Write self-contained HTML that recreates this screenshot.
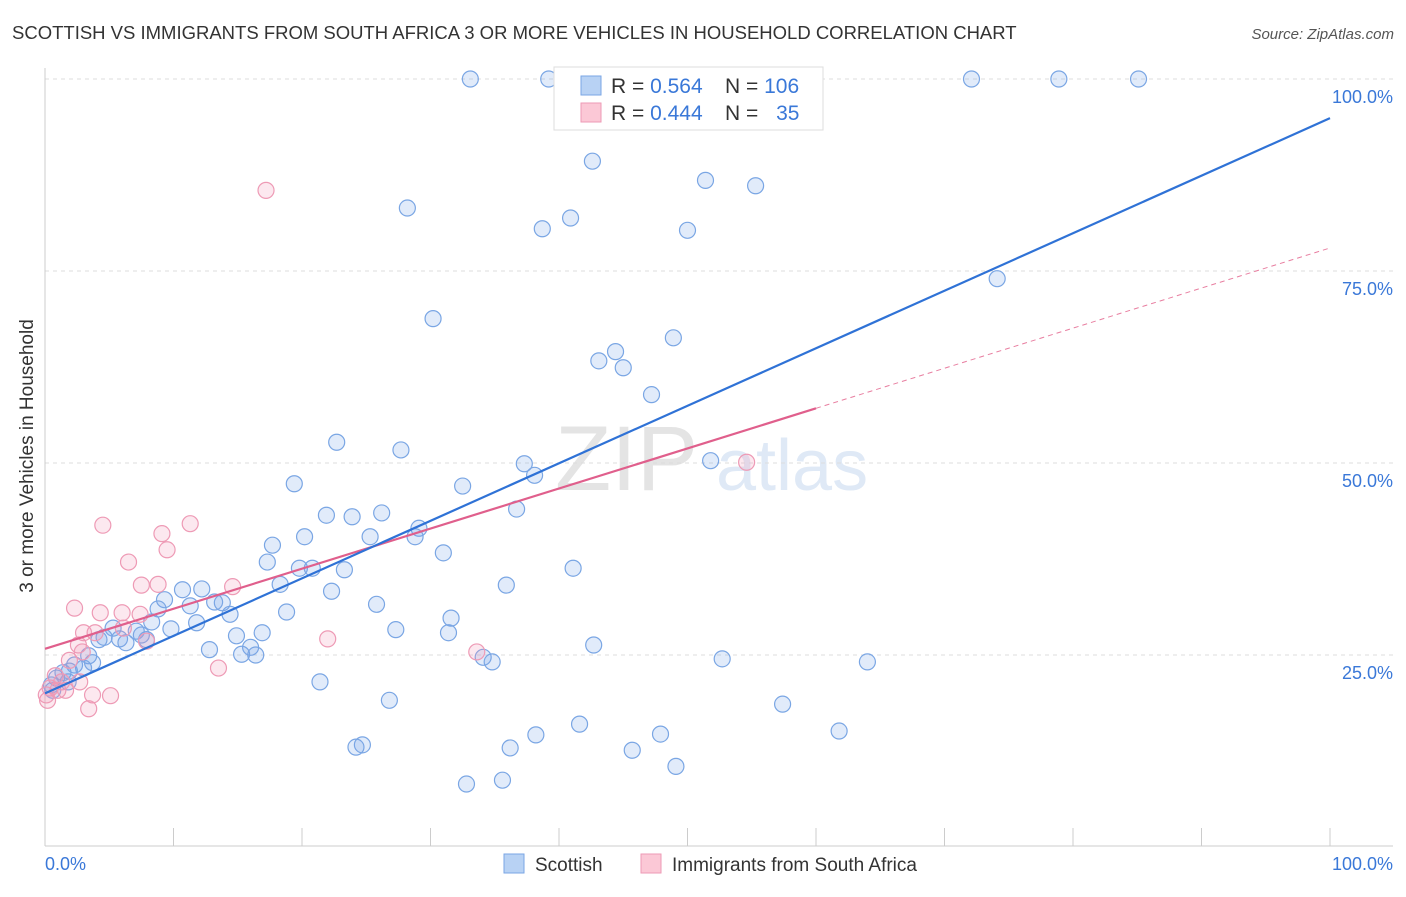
<!DOCTYPE html>
<html><head><meta charset="utf-8"><style>
body{margin:0;background:#fff;font-family:"Liberation Sans",sans-serif;}
svg text{font-family:"Liberation Sans",sans-serif;}
</style></head><body>
<svg id="chart" width="1406" height="892" viewBox="0 0 1406 892" xmlns="http://www.w3.org/2000/svg">
<text x="12" y="39" font-size="18.5" fill="#333">SCOTTISH VS IMMIGRANTS FROM SOUTH AFRICA 3 OR MORE VEHICLES IN HOUSEHOLD CORRELATION CHART</text>
<text x="1394" y="39" font-size="15" fill="#555" text-anchor="end" font-style="italic">Source: ZipAtlas.com</text>
<text x="555" y="490" font-size="92" fill="#e4e4e4" font-family="Liberation Serif">ZIP</text>
<text x="716" y="490" font-size="72" fill="#dfe9f6">atlas</text>
<g id="grid"></g>
<g id="axes"></g>
<g id="marks"></g>
<text transform="translate(33,456) rotate(-90)" font-size="19" fill="#333" text-anchor="middle">3 or more Vehicles in Household</text>
<g>
<rect x="554" y="67" width="269" height="63" fill="#fff" stroke="#ddd"/>
<rect x="581" y="76" width="20" height="19" fill="#b8d2f4" stroke="#7aa6e4"/>
<rect x="581" y="103" width="20" height="19" fill="#fbc8d6" stroke="#ee9ab5"/>
<text x="611" y="93" font-size="21" fill="#333">R = <tspan fill="#3a78d8">0.564</tspan></text>
<text x="725" y="93" font-size="21" fill="#333">N = <tspan fill="#3a78d8">106</tspan></text>
<text x="611" y="120" font-size="21" fill="#333">R = <tspan fill="#3a78d8">0.444</tspan></text>
<text x="725" y="120" font-size="21" fill="#333">N = <tspan fill="#3a78d8" dx="12">35</tspan></text>
</g>
<g>
<rect x="504" y="854" width="20" height="19" fill="#b8d2f4" stroke="#7aa6e4"/>
<text x="535" y="871" font-size="19" fill="#333">Scottish</text>
<rect x="641" y="854" width="20" height="19" fill="#fbc8d6" stroke="#ee9ab5"/>
<text x="672" y="871" font-size="19" fill="#333">Immigrants from South Africa</text>
</g>
</svg>
<script>
const blueX=[33.1,39.2,53.7,58.8,72.1,78.9,85.1,42.6,51.4,55.3,28.2,40.9,38.7,50.0,74.1,30.2,48.9,44.4,43.1,45.0,47.2,22.7,27.7,51.8,37.3,38.1,19.4,32.5,36.7,21.9,23.9,26.2,29.1,28.8,25.3,20.2,17.7,31.0,17.3,19.8,20.8,23.3,41.1,18.3,35.9,22.3,10.7,12.2,9.3,13.8,13.2,11.3,8.8,25.8,18.8,14.4,31.6,8.3,11.8,9.8,5.3,7.1,4.6,5.8,6.3,7.5,7.9,27.3,31.4,16.9,14.9,4.2,42.7,16.0,12.8,15.3,16.4,3.4,34.1,34.8,52.7,64.0,3.7,2.3,3.0,1.9,1.4,0.9,0.5,0.6,1.8,21.4,26.8,57.4,41.6,61.8,38.2,47.9,24.7,24.2,36.2,45.7,49.1,35.6,32.8];
const blueY=[100,100,100,100,100,100,100,89.3,86.8,86.1,83.2,81.9,80.5,80.3,74.0,68.8,66.3,64.5,63.3,62.4,58.9,52.7,51.7,50.3,49.9,48.4,47.3,47.0,44.0,43.2,43.0,43.5,41.5,40.4,40.4,40.4,39.3,38.3,37.1,36.3,36.3,36.1,36.3,34.2,34.1,33.3,33.5,33.6,32.2,31.8,31.9,31.4,31.0,31.6,30.6,30.3,29.8,29.3,29.2,28.4,28.5,28.1,27.3,27.1,26.6,27.6,27.0,28.3,27.9,27.9,27.5,27.0,26.3,26.0,25.7,25.1,25.0,24.9,24.7,24.1,24.5,24.1,24.0,23.7,23.3,22.9,22.7,22.0,21.1,20.4,21.5,21.5,19.1,18.6,16.0,15.1,14.6,14.7,13.3,13.0,12.9,12.6,10.5,8.7,8.2];
const pinkX=[17.2,54.6,4.5,11.3,9.1,9.5,6.5,7.5,8.8,14.6,2.3,4.3,6.0,7.4,6.1,3.9,3.0,7.9,22.0,2.6,2.9,33.6,1.9,13.5,0.8,1.3,0.4,1.0,0.2,3.7,5.1,3.4,1.6,2.7,0.1];
const pinkY=[85.5,50.1,41.9,42.1,40.8,38.7,37.1,34.1,34.2,33.9,31.1,30.5,30.5,30.3,28.5,27.9,27.9,26.8,27.1,26.3,25.4,25.4,24.3,23.3,22.3,21.5,20.7,20.4,19.1,19.8,19.7,18.0,20.4,21.5,19.8];
const blueLine=[20.0,94.9];
const pinkLine=[25.8,78.0];
const pinkSolidEnd=60;
const yTicks=[25,50,75,100];
const yTickLabels=["25.0%","50.0%","75.0%","100.0%"];

const NS="http://www.w3.org/2000/svg";
const sx=v=>45+v*12.85;
const sy=v=>847-v*7.68;
function mk(tag,attrs,parent){const e=document.createElementNS(NS,tag);for(const k in attrs)e.setAttribute(k,attrs[k]);parent.appendChild(e);return e;}
const grid=document.getElementById('grid'),axes=document.getElementById('axes'),marks=document.getElementById('marks');
yTicks.forEach((t,i)=>{
 const l=mk('line',{x1:45,x2:1393,y1:sy(t),y2:sy(t),stroke:'#ddd','stroke-dasharray':'4,4'},grid);
 
 
 const tx=mk('text',{x:1393,y:sy(t)+24,'font-size':18,fill:'#3a78d8','text-anchor':'end'},axes);
 tx.textContent=yTickLabels[i];
 
 
});
const xa=mk('line',{x1:45,x2:1393,y1:846,y2:846,stroke:'#ccc'},axes);


const ya=mk('line',{x1:45,x2:45,y1:68,y2:846,stroke:'#ccc'},axes);


for(let i=0;i<=10;i++){const t=mk('line',{x1:sx(i*10),x2:sx(i*10),y1:828,y2:846,stroke:'#ccc'},axes);
 
 }
const x0=mk('text',{x:45,y:870,'font-size':18,fill:'#3a78d8'},axes);x0.textContent='0.0%';


const x1=mk('text',{x:1393,y:870,'font-size':18,fill:'#3a78d8','text-anchor':'end'},axes);x1.textContent='100.0%';



function dot(x,y,c,f,n){const e=mk('circle',{cx:sx(x),cy:sy(y),r:8,fill:f,stroke:c,'stroke-width':1.2},marks);
 
 }
blueX.forEach((x,i)=>dot(x,blueY[i],'#7aa6e4','rgba(120,165,230,0.22)','scottish-point'));
pinkX.forEach((x,i)=>dot(x,pinkY[i],'#ee9ab5','rgba(240,150,180,0.22)','south-africa-point'));
const pv=x=>pinkLine[0]+(pinkLine[1]-pinkLine[0])*x/100;
const pd=mk('line',{x1:sx(pinkSolidEnd),y1:sy(pv(pinkSolidEnd)),x2:sx(100),y2:sy(pinkLine[1]),stroke:'#e87ea0','stroke-width':1,'stroke-dasharray':'5,4'},marks);


const ps=mk('line',{x1:sx(0),y1:sy(pinkLine[0]),x2:sx(pinkSolidEnd),y2:sy(pv(pinkSolidEnd)),stroke:'#e05f8c','stroke-width':2.2},marks);


const bl=mk('line',{x1:sx(0),y1:sy(blueLine[0]),x2:sx(100),y2:sy(blueLine[1]),stroke:'#2f72d6','stroke-width':2.2},marks);


</script>
</body></html>
